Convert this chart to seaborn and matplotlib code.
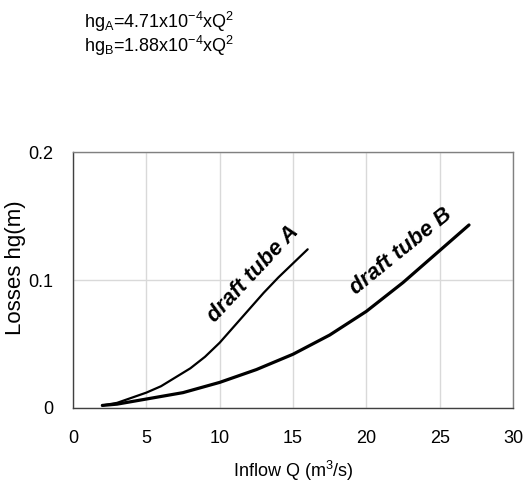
import numpy as np
import pandas as pd
import seaborn as sns
import matplotlib.pyplot as plt

# values
q_a = [2, 3, 4, 5, 6, 7, 8, 9, 10, 11, 12, 13, 14, 15, 16]
hg_a = [0.002, 0.004, 0.008, 0.012, 0.017, 0.024, 0.031, 0.040, 0.051,
        0.064, 0.077, 0.090, 0.102, 0.113, 0.124]
q_b = [2, 3, 5, 7.5, 10, 12.5, 15, 17.5, 20, 22.5, 25, 27]
hg_b = [0.002, 0.003, 0.007, 0.012, 0.020, 0.030, 0.042, 0.057, 0.0755,
        0.098, 0.123, 0.143]

x_ticks = [0, 5, 10, 15, 20, 25, 30]
y_ticks = [0, 0.1, 0.2]
y_tick_labels = ["0", "0.1", "0.2"]

FONT = ["Liberation Sans", "DejaVu Sans"]

sns.set_style("whitegrid")
plt.rcParams["font.family"] = FONT
plt.rcParams["mathtext.fontset"] = "custom"
plt.rcParams["mathtext.rm"] = "Liberation Sans"
plt.rcParams["text.color"] = "black"
plt.rcParams["axes.labelcolor"] = "black"
plt.rcParams["xtick.color"] = "black"
plt.rcParams["ytick.color"] = "black"

df_a = pd.DataFrame({"Q": q_a, "hg": hg_a})
df_b = pd.DataFrame({"Q": q_b, "hg": hg_b})

fig = plt.figure(figsize=(5.26, 4.97), dpi=100)
ax = fig.add_axes([0.1388, 0.1791, 0.8365, 0.515])

sns.lineplot(data=df_a, x="Q", y="hg", ax=ax, color="black", linewidth=1.6)
sns.lineplot(data=df_b, x="Q", y="hg", ax=ax, color="black", linewidth=2.3)

ax.set_xlim(0, 30)
ax.set_ylim(0, 0.2)
ax.set_xticks(x_ticks)
ax.set_yticks(y_ticks)
ax.set_yticklabels(y_tick_labels)
ax.tick_params(axis="x", length=0, labelsize=13, pad=16)
ax.tick_params(axis="y", length=0, labelsize=13, pad=14)
ax.grid(True, color="#d9d9d9", linewidth=1)
for side, s in ax.spines.items():
    s.set_color("#404040" if side in ("left", "bottom") else "#808080")
    s.set_linewidth(1)

ax.set_xlabel("Inflow Q (m$^\\mathregular{3}$/s)", fontsize=13)
ax.xaxis.set_label_coords(0.5, -0.2)
ax.set_ylabel("Losses hg(m)", fontsize=16)
ax.yaxis.set_label_coords(-0.13, 0.547)
ax.yaxis.label.set_va("center")

ax.text(12.3, 0.105, "draft tube A", rotation=47, ha="center", va="center",
        fontsize=16, fontweight="bold", fontstyle="italic",
        rotation_mode="anchor")
ax.text(22.35, 0.122, "draft tube B", rotation=39, ha="center", va="center",
        fontsize=16, fontweight="bold", fontstyle="italic",
        rotation_mode="anchor")

fig.text(84 / 526, 1 - 22 / 497,
         "hg$_\\mathregular{A}$=4.71x10$^\\mathregular{-4}$xQ$^\\mathregular{2}$",
         fontsize=13, va="center", ha="left")
fig.text(84 / 526, 1 - 46 / 497,
         "hg$_\\mathregular{B}$=1.88x10$^\\mathregular{-4}$xQ$^\\mathregular{2}$",
         fontsize=13, va="center", ha="left")

fig.savefig("out.png", dpi=100)
